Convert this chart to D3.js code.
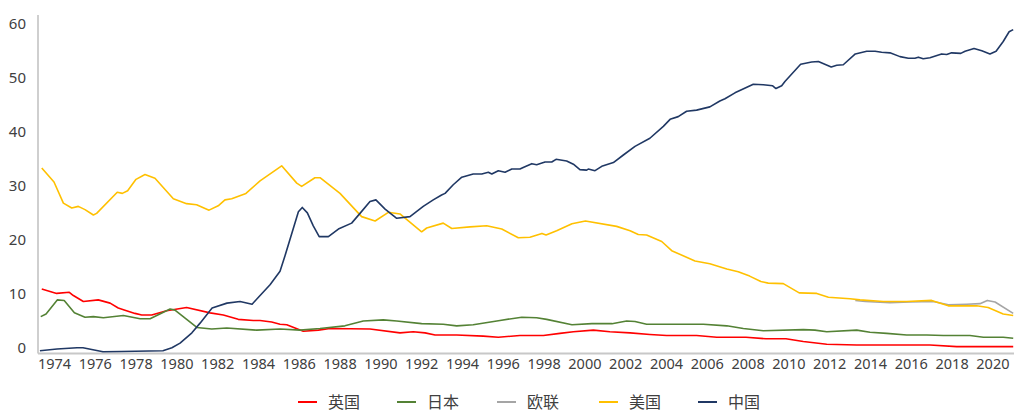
<!DOCTYPE html>
<html>
<head>
<meta charset="utf-8">
<script src="https://cdn.jsdelivr.net/npm/d3@7"></script>
<style>
  html, body { margin: 0; padding: 0; background: #fff; }
  svg { display: block; }
  text { font-family: "Noto Sans", "Noto Sans CJK SC", sans-serif; fill: #404040; }
  .cjk { font-family: "Noto Sans CJK SC", "Noto Sans", sans-serif; }
</style>
</head>
<body>
<svg id="chart" width="1014" height="412"></svg>
<script>
// ---- Data ----
const seriesNames = ["英国", "日本", "欧联", "美国", "中国"];
const seriesColors = ["#ff0000", "#548235", "#a5a5a5", "#ffc000", "#203864"];

const ukYears = [1973.4,1974.13,1974.75,1974.95,1975.44,1976.17,1976.75,1977.15,1977.48,1977.97,1978.3,1978.79,1979.52,1980.5,1981.65,1982.3,1983.03,1983.77,1984.1,1984.67,1985.08,1985.41,1986.22,1986.96,1987.53,1989.49,1990.96,1991.61,1992.19,1992.68,1993.74,1995.04,1995.78,1996.84,1997.99,1998.8,1999.46,2000.44,2001.25,2002.24,2003.21,2004.03,2005.5,2006.49,2007.92,2008.9,2009.88,2010.73,2011.88,2013.35,2016.94,2018.25,2021.02];
const ukValues = [10.9,10.1,10.3,9.7,8.6,8.9,8.3,7.4,7.0,6.4,6.1,6.1,6.9,7.5,6.5,6.1,5.3,5.1,5.1,4.8,4.4,4.3,3.1,3.3,3.6,3.5,2.8,3.0,2.8,2.4,2.4,2.2,2.0,2.3,2.3,2.7,3.0,3.3,3.0,2.8,2.5,2.3,2.3,2.0,2.0,1.7,1.7,1.2,0.7,0.55,0.55,0.25,0.25];

const jpYears = [1973.35,1973.61,1974.16,1974.5,1975.0,1975.52,1975.93,1976.42,1977.4,1978.22,1978.71,1979.69,1979.93,1981.0,1981.73,1982.47,1983.94,1985.08,1986.06,1987.04,1988.26,1989.16,1990.14,1990.8,1992.02,1993.08,1993.74,1994.55,1995.86,1996.93,1997.66,1998.15,1999.39,2000.37,2001.35,2002.07,2002.48,2003.05,2005.83,2006.98,2007.79,2008.77,2010.73,2011.3,2011.88,2013.35,2014.0,2014.82,2015.8,2016.78,2017.6,2018.9,2019.56,2020.53,2021.02];
const jpValues = [5.8,6.3,8.9,8.8,6.5,5.7,5.8,5.6,6.0,5.4,5.4,7.2,7.0,3.8,3.5,3.7,3.3,3.5,3.3,3.6,4.1,5.0,5.2,5.0,4.5,4.4,4.1,4.3,5.1,5.7,5.6,5.3,4.3,4.5,4.5,5.0,4.9,4.4,4.4,4.1,3.6,3.2,3.4,3.3,3.0,3.3,2.9,2.7,2.4,2.4,2.3,2.3,2.0,2.0,1.8];

const euYears = [2013.28,2013.77,2014.98,2015.96,2017.1,2017.84,2018.74,2019.39,2019.75,2020.13,2021.02];
const euValues = [8.8,8.6,8.4,8.5,8.6,8.0,8.1,8.2,8.8,8.5,6.4];

const usYears = [1973.4,1974.0,1974.46,1974.87,1975.19,1975.52,1975.93,1976.09,1977.1,1977.35,1977.61,1978.02,1978.46,1978.95,1979.85,1980.5,1980.99,1981.6,1982.05,1982.38,1982.71,1983.41,1984.1,1985.16,1985.9,1986.14,1986.79,1987.04,1988.02,1989.08,1989.74,1990.39,1990.96,1992.02,1992.27,1993.08,1993.5,1994.39,1995.21,1995.95,1996.76,1997.33,1997.92,1998.12,1998.64,1999.39,2000.05,2001.58,2002.24,2002.64,2003.05,2003.79,2004.28,2005.42,2006.15,2006.98,2007.54,2008.1,2008.65,2009.01,2009.75,2010.53,2011.39,2011.96,2013.02,2013.51,2014.65,2015.8,2017.02,2017.84,2019.23,2019.79,2020.53,2021.02];
const usValues = [33.3,30.7,26.8,25.9,26.2,25.6,24.6,24.9,28.8,28.6,29.1,31.2,32.1,31.4,27.6,26.7,26.5,25.5,26.3,27.4,27.6,28.6,30.9,33.7,30.5,29.9,31.5,31.5,28.6,24.3,23.5,25.1,24.8,21.5,22.2,23.1,22.1,22.4,22.6,22.0,20.4,20.5,21.2,20.9,21.7,23.0,23.5,22.5,21.7,21.0,20.9,19.7,18.0,16.1,15.6,14.6,14.1,13.3,12.3,12.0,11.9,10.2,10.1,9.4,9.1,8.9,8.6,8.6,8.8,7.8,7.8,7.5,6.3,6.0];

const cnYears = [1973.31,1974.15,1975.13,1975.42,1976.4,1977.3,1979.34,1979.78,1980.18,1980.76,1981.16,1981.75,1982.48,1983.12,1983.71,1984.0,1984.59,1985.08,1985.32,1985.98,1986.17,1986.42,1986.71,1987.0,1987.45,1987.94,1988.59,1989.0,1989.49,1989.78,1990.23,1990.8,1991.45,1992.1,1992.59,1993.0,1993.17,1993.57,1993.99,1994.55,1994.97,1995.29,1995.46,1995.78,1996.11,1996.44,1996.84,1997.0,1997.42,1997.66,1998.07,1998.4,1998.61,1999.13,1999.46,1999.78,2000.11,2000.19,2000.52,2000.85,2001.42,2001.91,2002.48,2003.21,2003.87,2004.2,2004.6,2005.01,2005.5,2006.15,2006.64,2006.89,2007.38,2008.28,2008.77,2009.23,2009.39,2009.67,2009.83,2010.6,2011.14,2011.47,2012.1,2012.37,2012.69,2013.28,2013.84,2014.25,2014.57,2014.98,2015.47,2015.88,2016.2,2016.37,2016.61,2016.94,2017.51,2017.76,2018.0,2018.45,2018.66,2019.1,2019.48,2019.88,2020.18,2020.53,2020.82,2021.02];
const cnValues = [-0.5,-0.2,0.05,0.05,-0.7,-0.65,-0.5,0.05,0.9,2.8,4.6,7.4,8.3,8.6,8.1,9.3,11.7,14.2,17.0,25.2,26.0,25.0,22.6,20.6,20.6,22.0,23.1,24.9,27.1,27.4,25.7,24.0,24.3,26.2,27.4,28.3,28.6,30.2,31.6,32.2,32.2,32.5,32.2,32.8,32.5,33.1,33.1,33.4,34.1,33.9,34.4,34.4,34.9,34.6,34.0,33.0,32.9,33.1,32.8,33.6,34.3,35.7,37.3,38.8,41.0,42.3,42.8,43.8,44.0,44.6,45.7,46.1,47.2,48.8,48.7,48.5,48.0,48.5,49.3,52.5,52.9,53.0,52.0,52.3,52.4,54.4,54.9,54.9,54.7,54.6,53.9,53.6,53.6,53.8,53.5,53.7,54.4,54.3,54.6,54.5,54.9,55.4,55.0,54.4,54.9,56.7,58.5,58.9];

const xTickYears = [1974,1976,1978,1980,1982,1984,1986,1988,1990,1992,1994,1996,1998,2000,2002,2004,2006,2008,2010,2012,2014,2016,2018,2020];
const yTickValues = [0,10,20,30,40,50,60];

// ---- Build ----
const svg = d3.select("#chart");
const x = d3.scaleLinear().domain([1973, 2021]).range([33.6, 1012.8]);
const y = d3.scaleLinear().domain([-1, 61.6]).range([353.4, 15]);

const series = [
  {name: seriesNames[0], color: seriesColors[0], years: ukYears, values: ukValues},
  {name: seriesNames[1], color: seriesColors[1], years: jpYears, values: jpValues},
  {name: seriesNames[2], color: seriesColors[2], years: euYears, values: euValues},
  {name: seriesNames[3], color: seriesColors[3], years: usYears, values: usValues},
  {name: seriesNames[4], color: seriesColors[4], years: cnYears, values: cnValues}
];

// axes
const yAxis = d3.axisLeft(y).tickValues(yTickValues).tickSize(0).tickPadding(0).tickFormat(d3.format("d"));
const gy = svg.append("g").attr("transform", "translate(26,0)").call(yAxis);
gy.select(".domain").remove();
gy.selectAll("text").attr("font-size", 15).style("font-family", "'Noto Sans', sans-serif").attr("fill", "#404040");

const xAxis = d3.axisBottom(x).tickValues(xTickYears).tickSize(0).tickPadding(0).tickFormat(d3.format("d"));
const gx = svg.append("g").attr("transform", "translate(0,359)").call(xAxis);
gx.select(".domain").remove();
gx.selectAll("text").attr("font-size", 14.5).style("font-family", "'Noto Sans', sans-serif").attr("fill", "#404040");

// axis lines
svg.append("line").attr("x1", 38).attr("x2", 38).attr("y1", 15).attr("y2", 353.5)
  .attr("stroke", "#bfbfbf").attr("stroke-width", 1.5);
svg.append("line").attr("x1", 38).attr("x2", 1014).attr("y1", 353.5).attr("y2", 353.5)
  .attr("stroke", "#c8c8c8").attr("stroke-width", 2);

// lines
const line = d3.line().x(d => x(d[0])).y(d => y(d[1]));
series.forEach(s => {
  const pts = s.years.map((yr, i) => [yr, s.values[i]]);
  svg.append("path").datum(pts)
    .attr("d", line)
    .attr("fill", "none")
    .attr("stroke", s.color)
    .attr("stroke-width", 1.6)
    .attr("stroke-linejoin", "round");
});

// legend
const legendX = [298, 397, 497, 599, 698];
const lg = svg.append("g");
series.forEach((s, i) => {
  const g = lg.append("g").attr("transform", `translate(${legendX[i]},402)`);
  g.append("line").attr("x1", 0).attr("x2", 19).attr("y1", 0).attr("y2", 0)
    .attr("stroke", s.color).attr("stroke-width", 2);
  g.append("text").attr("class", "cjk").attr("x", 30).attr("y", 5.5)
    .attr("font-size", 16).text(s.name);
});
</script>
</body>
</html>
